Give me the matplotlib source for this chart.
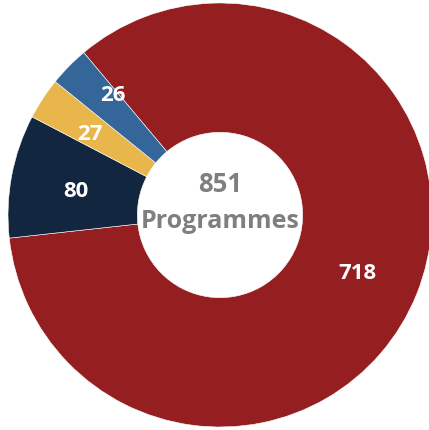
import matplotlib
matplotlib.use("Agg")
import matplotlib.pyplot as plt
import numpy as np

categories = ["A", "B", "C", "D"]
values = [718, 80, 27, 26]
labels = ["718", "80", "27", "26"]
center_number = "851"
center_text = "Programmes"

colors = ["#951E20", "#12263F", "#E9B64B", "#346699"]
label_radius = [0.70, 0.69, 0.73, 0.77]
label_angle_shift = [0, 0, 0.5, -4.5]
START = 130

W, H = 429, 431
fig = plt.figure(figsize=(W / 100, H / 100), dpi=100)
cx, cy, R = 220, 216, 212
ax = fig.add_axes([(cx - R) / W, (H - cy - R) / H, 2 * R / W, 2 * R / H])

wedges, _ = ax.pie(values, colors=colors, startangle=START, counterclock=False,
                   radius=1, wedgeprops=dict(width=0.61, edgecolor="white", linewidth=0.4))
ax.set_xlim(-1, 1)
ax.set_ylim(-1, 1)
ax.set_aspect("equal")
ax.axis("off")

fam = "Open Sans"
for w, lab, r, sh in zip(wedges, labels, label_radius, label_angle_shift):
    ang = np.deg2rad((w.theta1 + w.theta2) / 2 + sh)
    ax.text(r * np.cos(ang), r * np.sin(ang) - 0.038, lab, ha="center", va="baseline",
            color="white", fontsize=16, fontweight="bold", family=fam)

ax.text(0, 0.113, center_number, ha="center", va="baseline", color="#7F7F7F",
        fontsize=18.5, fontweight="bold", family=fam)
ax.text(0, -0.057, center_text, ha="center", va="baseline", color="#7F7F7F",
        fontsize=18, fontweight="bold", family=fam)

fig.savefig("out.png", dpi=100)
